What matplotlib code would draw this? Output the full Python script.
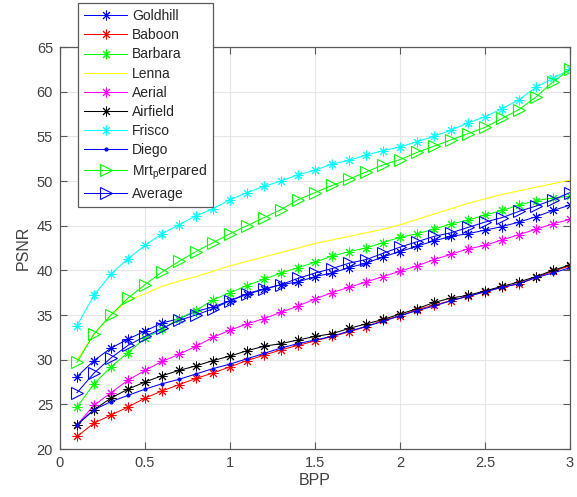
import matplotlib
matplotlib.use("Agg")
import matplotlib.pyplot as plt
import numpy as np

plt.rcParams['font.family'] = ['Liberation Sans', 'DejaVu Sans']
plt.rcParams['mathtext.fontset'] = 'custom'
plt.rcParams['mathtext.rm'] = 'Liberation Sans'

bpp = [0.1, 0.2, 0.3, 0.4, 0.5, 0.6, 0.7, 0.8, 0.9, 1.0,
       1.1, 1.2, 1.3, 1.4, 1.5, 1.6, 1.7, 1.8, 1.9, 2.0,
       2.1, 2.2, 2.3, 2.4, 2.5, 2.6, 2.7, 2.8, 2.9, 3.0]

goldhill = [28.1, 29.9, 31.3, 32.3, 33.2, 34.1, 34.6, 35.4, 35.9, 36.6,
            37.3, 37.9, 38.4, 38.7, 39.3, 39.7, 40.3, 40.8, 41.5, 42.1,
            42.7, 43.3, 43.8, 44.1, 44.5, 44.9, 45.4, 46.0, 46.7, 47.3]
baboon = [21.4, 22.9, 23.8, 24.7, 25.7, 26.5, 27.2, 27.9, 28.5, 29.2,
          29.9, 30.5, 31.1, 31.6, 32.1, 32.6, 33.1, 33.7, 34.4, 34.9,
          35.6, 36.1, 36.6, 37.1, 37.6, 38.1, 38.5, 39.2, 39.9, 40.5]
barbara = [24.7, 27.3, 29.2, 30.8, 32.4, 33.4, 34.6, 35.5, 36.7, 37.5,
           38.3, 39.0, 39.7, 40.3, 40.9, 41.6, 42.1, 42.5, 43.1, 43.7,
           44.1, 44.6, 45.2, 45.6, 46.2, 46.7, 47.3, 47.8, 48.1, 48.3]
lenna = [30.0, 32.8, 35.0, 36.6, 37.4, 38.2, 38.8, 39.3, 39.9, 40.5,
         41.0, 41.5, 42.0, 42.5, 43.0, 43.4, 43.8, 44.2, 44.6, 45.1,
         45.7, 46.3, 46.9, 47.5, 48.0, 48.5, 48.9, 49.3, 49.7, 50.1]
aerial = [22.7, 24.9, 26.3, 27.7, 28.8, 29.8, 30.6, 31.5, 32.5, 33.3,
          34.0, 34.6, 35.3, 36.0, 36.8, 37.5, 38.1, 38.7, 39.3, 39.9,
          40.5, 41.2, 41.8, 42.4, 42.8, 43.4, 44.0, 44.6, 45.2, 45.7]
airfield = [22.7, 24.4, 25.7, 26.7, 27.5, 28.2, 28.8, 29.3, 29.9, 30.4,
            31.0, 31.5, 31.8, 32.2, 32.6, 32.9, 33.5, 34.0, 34.5, 35.1,
            35.7, 36.4, 36.9, 37.2, 37.7, 38.2, 38.7, 39.3, 40.0, 40.6]
frisco = [33.8, 37.2, 39.6, 41.3, 42.8, 44.1, 45.1, 46.1, 46.9, 47.9,
          48.7, 49.4, 50.0, 50.7, 51.2, 51.9, 52.3, 52.9, 53.4, 53.8,
          54.4, 55.0, 55.7, 56.5, 57.2, 58.1, 59.1, 60.5, 61.5, 62.5]
diego = [22.7, 24.4, 25.3, 26.0, 26.7, 27.3, 27.8, 28.4, 29.0, 29.5,
         30.1, 30.7, 31.3, 31.8, 32.2, 32.6, 33.2, 33.7, 34.3, 34.9,
         35.5, 36.0, 36.6, 37.1, 37.6, 38.1, 38.5, 39.2, 39.7, 40.3]
mrt_perpared = [29.7, 32.9, 35.0, 36.9, 38.4, 39.8, 41.0, 42.1, 43.1, 44.1,
                45.0, 45.9, 46.8, 47.9, 48.7, 49.5, 50.2, 51.0, 51.8, 52.4,
                53.2, 53.9, 54.6, 55.3, 56.0, 57.0, 58.0, 59.4, 61.1, 62.5]
average = [26.3, 28.5, 30.2, 31.6, 32.6, 33.5, 34.4, 35.0, 35.7, 36.6,
           37.4, 37.9, 38.4, 39.1, 39.7, 40.2, 40.8, 41.2, 41.9, 42.6,
           43.2, 43.8, 44.2, 44.8, 45.4, 45.9, 46.6, 47.2, 47.9, 48.7]

ast = (8, 2, 0)  # matlab style asterisk

fig = plt.figure(figsize=(5.77, 4.97), dpi=100)
ax = fig.add_axes([60/577, 1-449/497, 510/577, 402/497])

lw = 0.75
sty = dict(marker=ast, ms=7, mew=0.7, lw=lw)
tri = dict(marker='>', ms=8, mew=0.8, mfc='none', lw=lw)
ax.plot(bpp, goldhill, color='#0000ff', label='Goldhill', **sty)
ax.plot(bpp, baboon, color='#ff0000', label='Baboon', **sty)
ax.plot(bpp, barbara, color='#00ff00', label='Barbara', **sty)
ax.plot(bpp, lenna, color='#ffff00', lw=lw, label='Lenna')
ax.plot(bpp, aerial, color='#ff00ff', label='Aerial', **sty)
ax.plot(bpp, airfield, color='#000000', label='Airfield', **sty)
ax.plot(bpp, frisco, color='#00ffff', label='Frisco', **sty)
ax.plot(bpp, diego, color='#0000ff', marker='.', ms=4, lw=lw, label='Diego')
ax.plot(bpp, mrt_perpared, color='#00ff00', label=r'Mrt$_\mathregular{p}$erpared', **tri)
ax.plot(bpp, average, color='#0000ff', label='Average', **tri)

ax.set_xlim(0, 3)
ax.set_ylim(20, 65)
ax.set_xticks([0, 0.5, 1, 1.5, 2, 2.5, 3])
ax.set_xticklabels(['0', '0.5', '1', '1.5', '2', '2.5', '3'])
ax.set_yticks(range(20, 70, 5))
ax.grid(True, color='#e6e6e6', lw=0.8)
ax.set_axisbelow(True)
for s in ax.spines.values():
    s.set_color('#5a5a5a')
    s.set_linewidth(0.9)
ax.tick_params(direction='in', length=5, top=True, right=True, colors='#5a5a5a',
               labelcolor='#404040', labelsize=10.5, pad=5)
ax.set_xlabel('BPP', fontsize=11.5, color='#404040', labelpad=2)
ax.set_ylabel('PSNR', fontsize=11.5, color='#404040', labelpad=4)

leg = ax.legend(loc='lower left', bbox_to_anchor=(78/577, 1-207/497),
                bbox_transform=fig.transFigure, fontsize=10, numpoints=1,
                handlelength=3.1, handletextpad=0.35, labelspacing=0.37,
                borderpad=0.45, borderaxespad=0, fancybox=False, framealpha=1)
leg.get_frame().set_edgecolor('#5a5a5a')
leg.get_frame().set_linewidth(0.9)
for t in leg.get_texts():
    t.set_color('#262626')

fig.savefig('out.png', dpi=100)
